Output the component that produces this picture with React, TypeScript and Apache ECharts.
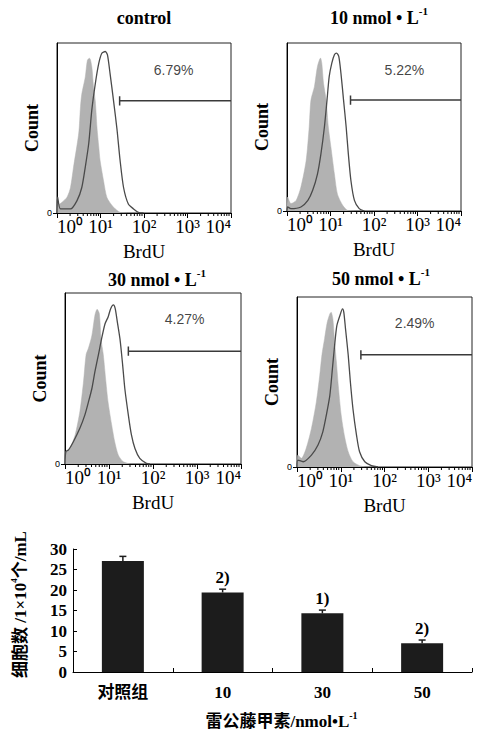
import React, { useEffect, useRef } from 'react';
import * as echarts from 'echarts';

// ---------- Flow cytometry histograms (x in log10 BrdU units, y as % of panel height) ----------
const isoControl: number[][] = [[0,0],[0.01,7],[0.04,5],[0.1,6],[0.23,9.3],[0.31,15],[0.38,27],[0.5,47],[0.54,62.5],[0.57,70],[0.65,80],[0.7,90],[0.75,91],[0.8,86],[0.84,74],[0.88,66],[0.92,50],[0.96,39],[0.99,31],[1.07,19],[1.15,9],[1.3,3.4],[1.45,0.4],[1.61,0]];
const brduControl: number[][] = [[0,0],[0.015,9.3],[0.08,2.4],[0.31,2.4],[0.46,7.3],[0.57,15],[0.65,27],[0.73,41],[0.8,60.5],[0.88,76],[0.96,88],[1.03,94],[1.11,95],[1.16,93],[1.22,82],[1.3,66],[1.38,49],[1.45,31],[1.53,15],[1.64,5.3],[1.76,2.4],[1.87,0.4],[1.99,0]];
const iso10: number[][] = [[0,0],[0.015,8.3],[0.09,4.4],[0.21,6.3],[0.32,14.3],[0.44,30],[0.51,50],[0.55,66],[0.63,74],[0.7,86],[0.77,91],[0.8,88],[0.84,76],[0.9,66],[0.95,50],[1.01,38],[1.09,22],[1.16,10],[1.28,3.4],[1.39,0.4],[1.55,0]];
const brdu10: number[][] = [[0,0],[0.015,2.4],[0.09,1.4],[0.32,2.4],[0.48,6.3],[0.59,12.3],[0.7,22],[0.78,34],[0.86,50],[0.92,66],[0.97,80],[1.03,88],[1.09,93],[1.14,94],[1.19,92],[1.24,82],[1.3,66],[1.36,50],[1.41,34],[1.47,18],[1.55,6.3],[1.66,1.4],[1.78,0]];
const iso30: number[][] = [[0,0],[0.02,7.2],[0.11,9.1],[0.23,17],[0.34,31],[0.42,48],[0.48,64],[0.53,67.5],[0.61,75],[0.68,87],[0.73,90.5],[0.78,88],[0.82,73],[0.87,64],[0.93,48],[0.98,36],[1.06,23],[1.13,13],[1.21,5.3],[1.32,1.4],[1.48,0]];
const brdu30: number[][] = [[0,0],[0.02,7.2],[0.08,8.2],[0.19,13],[0.34,21],[0.45,28.6],[0.53,36],[0.61,44],[0.68,54],[0.76,64],[0.83,73],[0.91,82],[0.98,86],[1.04,91],[1.1,93],[1.14,91],[1.19,83],[1.25,73],[1.31,58],[1.36,44],[1.44,28.6],[1.51,17],[1.59,9.1],[1.7,3.3],[1.85,0.4],[1.93,0]];
const iso50: number[][] = [[0,0],[0.02,7],[0.1,5.1],[0.21,11],[0.33,22.7],[0.44,38],[0.52,54],[0.57,66],[0.63,75.5],[0.69,85],[0.75,90],[0.78,91],[0.82,87],[0.86,73.6],[0.9,62],[0.95,46],[1.01,30.5],[1.09,17.6],[1.17,9],[1.28,3.1],[1.43,0.8],[1.55,0]];
const brdu50: number[][] = [[0,0],[0.02,4.1],[0.14,3.1],[0.33,7],[0.48,12.9],[0.59,20.7],[0.67,30.5],[0.75,42],[0.81,58],[0.86,71.6],[0.91,83],[0.98,89],[1.04,93],[1.07,91],[1.11,81],[1.17,66],[1.22,50],[1.28,34],[1.36,18.8],[1.43,9],[1.55,3.1],[1.7,0.8],[1.85,0]];

const isoCurves = [isoControl, iso10, iso30, iso50];
const brduCurves = [brduControl, brdu10, brdu30, brdu50];
const panelTitles = ['control', '10', '30', '50'];
const gateStarts = [1.44, 1.46, 1.44, 1.46];
const gateLevel = 66;
const percentLabels = ['6.79%', '5.22%', '4.27%', '2.49%'];
const percentPos = [[2.68, 84], [2.7, 84], [2.72, 85], [2.69, 84.5]];
const decadeLabels = ['10⁰', '10¹', '10²', '10³', '10⁴'];

// ---------- Bar chart ----------
const barCategories = ['对照组', '10', '30', '50'];
const barValues = [27.1, 19.4, 14.3, 7.0];
const barErrors = [1.1, 0.8, 0.8, 0.8];
const barMarks = ['', '2)', '1)', '2)'];

const SERIF = '"Liberation Serif", "Times New Roman", "Noto Sans CJK SC", serif';
const SANS = '"Liberation Sans", Arial, sans-serif';

const panelGrids = [
  { left: 57, top: 43, width: 174, height: 170 },
  { left: 287, top: 43, width: 174, height: 168 },
  { left: 65, top: 293, width: 176, height: 171 },
  { left: 297, top: 297, width: 175, height: 170 },
];
const titlePos = [[144, 18], [379, 16], [157, 278], [381, 277]];

// minor log ticks (axis decoration)
const minorTickPos: number[] = [];
for (let d = 0; d < 4; d++) for (let k = 2; k <= 9; k++) minorTickPos.push(d + Math.log10(k));

export default function App() {
  const ref = useRef<HTMLDivElement>(null);
  useEffect(() => {
    document.body.style.margin = '0';
    if (!ref.current) return;
    const chart = echarts.init(ref.current, undefined, { renderer: 'svg' });

    const grids: any[] = [];
    const xAxes: any[] = [];
    const yAxes: any[] = [];
    const series: any[] = [];
    const graphics: any[] = [];

    panelGrids.forEach((g, i) => {
      grids.push({ ...g, show: true, borderColor: '#222', borderWidth: 1, backgroundColor: 'transparent' });
      xAxes.push({
        gridIndex: i, type: 'value', min: 0, max: 4, interval: 1,
        name: 'BrdU', nameLocation: 'middle', nameGap: 29,
        nameTextStyle: { fontFamily: SERIF, fontSize: 19, color: '#000' },
        axisLine: { show: true, lineStyle: { color: '#000', width: 1 } },
        axisTick: { show: true, length: 5, lineStyle: { color: '#000' } },
        splitLine: { show: false },
        axisLabel: {
          margin: 4,
          fontFamily: SERIF, fontSize: 19, color: '#000',
          alignMinLabel: 'left', alignMaxLabel: 'right',
          formatter: (v: number) => decadeLabels[Math.round(v)],
        },
      });
      yAxes.push({
        gridIndex: i, type: 'value', min: 0, max: 100, interval: 100,
        name: 'Count', nameLocation: 'middle', nameGap: 16,
        nameTextStyle: { fontFamily: SERIF, fontSize: 18, fontWeight: 'bold', color: '#000' },
        axisLine: { show: true, lineStyle: { color: '#000' } },
        axisTick: { show: true, length: 4, customValues: [0], lineStyle: { color: '#000' } },
        splitLine: { show: false },
        axisLabel: { customValues: [0], formatter: (v: number) => (v === 0 ? '0' : ''), fontFamily: SANS, fontSize: 9, color: '#000', margin: 5 },
      });
      series.push({
        type: 'line', xAxisIndex: i, yAxisIndex: i, data: isoCurves[i], showSymbol: false, symbol: 'none',
        smooth: 0.25, lineStyle: { width: 0.5, color: '#b2b2b2' }, areaStyle: { color: '#b2b2b2', opacity: 1 }, z: 2,
      });
      series.push({
        type: 'line', xAxisIndex: i, yAxisIndex: i, data: brduCurves[i], showSymbol: false, symbol: 'none',
        smooth: 0.25, lineStyle: { width: 1.3, color: '#4a4a4a' }, z: 3,
      });
      const gx = gateStarts[i];
      series.push({
        type: 'line', xAxisIndex: i, yAxisIndex: i, showSymbol: false, symbol: 'none',
        data: [[gx, gateLevel + 2.7], [gx, gateLevel - 2.7], [gx, gateLevel], [4, gateLevel]],
        lineStyle: { width: 1.5, color: '#3a3a3a' }, z: 4,
      });
      series.push({
        type: 'scatter', xAxisIndex: i, yAxisIndex: i, symbolSize: 0,
        data: [percentPos[i]],
        label: { show: true, position: 'inside', formatter: () => percentLabels[i], fontFamily: SANS, fontSize: 14, color: '#111' },
        z: 5,
      });
      series.push({
        type: 'custom', xAxisIndex: i, yAxisIndex: i, clip: false, silent: true,
        data: minorTickPos.map((p) => [p, 0]),
        renderItem: (_p: any, api: any) => {
          const c = api.coord([api.value(0), 0]);
          return { type: 'line', shape: { x1: c[0], y1: c[1], x2: c[0], y2: c[1] + 3 }, style: { stroke: '#000', lineWidth: 1 } };
        },
      });
      const t = panelTitles[i];
      graphics.push({
        type: 'text', x: titlePos[i][0], y: titlePos[i][1],
        style: i === 0
          ? { text: t, fontFamily: SERIF, fontSize: 18, fontWeight: 'bold', fill: '#000', align: 'center', verticalAlign: 'middle' }
          : {
              text: `{n|${t} nmol • L}{s|-1}`, align: 'center', verticalAlign: 'middle',
              fontFamily: SERIF, fontSize: 18, fontWeight: 'bold', fill: '#000',
              rich: {
                n: { fontFamily: SERIF, fontSize: 18, fontWeight: 'bold', fill: '#000', lineHeight: 21, verticalAlign: 'bottom' },
                s: { fontFamily: SERIF, fontSize: 11, fontWeight: 'bold', fill: '#000', lineHeight: 21, verticalAlign: 'top' },
              },
            },
      });
    });

    // Bar chart
    const bi = 4;
    grids.push({ left: 73, top: 549, width: 399, height: 123 });
    xAxes.push({
      gridIndex: bi, type: 'category', data: barCategories,
      name: '{a|雷公藤甲素/nmol•L}{s|-1}', nameLocation: 'middle', nameGap: 38,
      nameTextStyle: {
        padding: [0, 0, 0, 18],
        rich: {
          a: { fontFamily: SERIF, fontSize: 17, fontWeight: 'bold', color: '#000', lineHeight: 20, verticalAlign: 'bottom' },
          s: { fontFamily: SERIF, fontSize: 10, fontWeight: 'bold', color: '#000', lineHeight: 20, verticalAlign: 'top' },
        },
      },
      axisLine: { show: true, lineStyle: { color: '#000', width: 1 } },
      axisTick: { show: true, inside: true, length: 4, alignWithLabel: false, lineStyle: { color: '#000' } },
      axisLabel: { fontFamily: SERIF, fontSize: 17, fontWeight: 'bold', color: '#000', margin: 12 },
    });
    yAxes.push({
      gridIndex: bi, type: 'value', min: 0, max: 30, interval: 5,
      name: '{a|细胞数 /1×10}{s|4}{a|个/mL}', nameLocation: 'middle', nameGap: 44, nameRotate: 90,
      nameTextStyle: {
        padding: [0, 0, 0, 12],
        rich: {
          a: { fontFamily: SERIF, fontSize: 17, fontWeight: 'bold', color: '#000', lineHeight: 20, verticalAlign: 'bottom' },
          s: { fontFamily: SERIF, fontSize: 9, fontWeight: 'bold', color: '#000', lineHeight: 20, verticalAlign: 'top' },
        },
      },
      axisLine: { show: true, lineStyle: { color: '#000', width: 1 } },
      axisTick: { show: true, inside: true, length: 4, lineStyle: { color: '#000' } },
      splitLine: { show: false },
      axisLabel: { fontFamily: SERIF, fontSize: 17, fontWeight: 'bold', color: '#000', margin: 6 },
    });
    series.push({
      type: 'bar', xAxisIndex: bi, yAxisIndex: bi, data: barValues, barWidth: 42,
      itemStyle: { color: '#1c1c1c' }, z: 2,
    });
    series.push({
      type: 'custom', xAxisIndex: bi, yAxisIndex: bi, clip: false, z: 3,
      data: barValues.map((v, i) => [i, v, barErrors[i]]),
      renderItem: (params: any, api: any) => {
        const idx = api.value(0);
        const v = api.value(1);
        const e = api.value(2);
        const base = api.coord([idx, v]);
        const top = api.coord([idx, v + e]);
        const mark = barMarks[params.dataIndex];
        const children: any[] = [
          { type: 'line', shape: { x1: base[0], y1: base[1], x2: top[0], y2: top[1] }, style: { stroke: '#1c1c1c', lineWidth: 1.5 } },
          { type: 'line', shape: { x1: top[0] - 3.5, y1: top[1], x2: top[0] + 3.5, y2: top[1] }, style: { stroke: '#1c1c1c', lineWidth: 1.5 } },
        ];
        if (mark) {
          children.push({
            type: 'text', x: top[0], y: top[1] - 3,
            style: { text: mark, fontFamily: SERIF, fontSize: 17, fontWeight: 'bold', fill: '#000', align: 'center', verticalAlign: 'bottom', textAlign: 'center', textVerticalAlign: 'bottom' },
          });
        }
        return { type: 'group', children };
      },
    });

    chart.setOption({
      animation: false,
      backgroundColor: '#fff',
      grid: grids,
      xAxis: xAxes,
      yAxis: yAxes,
      series,
      graphic: graphics,
    });
    return () => chart.dispose();
  }, []);
  return <div ref={ref} style={{ width: 482, height: 733 }} />;
}
